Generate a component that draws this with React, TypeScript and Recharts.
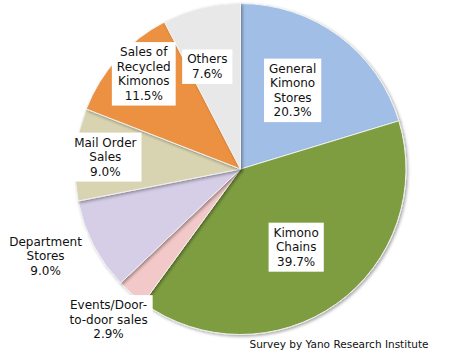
import { useLayoutEffect, useRef, useState } from 'react';
import { PieChart, Pie, Cell } from 'recharts';

const categories = [
  ['General', 'Kimono', 'Stores'],
  ['Kimono', 'Chains'],
  ['Events/Door-', 'to-door sales'],
  ['Department', 'Stores'],
  ['Mail Order', 'Sales'],
  ['Sales of', 'Recycled', 'Kimonos'],
  ['Others'],
];
const shares = [20.3, 39.7, 2.9, 9.0, 9.0, 11.5, 7.6];
const source = 'Survey by Yano Research Institute';

const colors = ['#A0BEE6', '#7E9D3F', '#F2C8C8', '#D6CDE6', '#D8D3B0', '#EC9142', '#E8E8E8'];
// best-fit label placement: radius factor and angle nudge (deg)
const labelRadius = [0.57, 0.58, 1.21, 1.29, 0.82, 0.82, 0.65];
const labelNudge = [3, 0, 0, -3.3, 0, -2.6, 4.3];

const data = shares.map((v, i) => ({ name: categories[i].join(' '), value: v, lines: categories[i] }));

const FONT = '"DejaVu Sans", sans-serif';
const LINE = 14.5;

const LabelBox = ({ x, y, lines }: { x: number; y: number; lines: string[] }) => {
  const ref = useRef<SVGTextElement>(null);
  const [box, setBox] = useState<{ x: number; y: number; w: number; h: number } | null>(null);
  useLayoutEffect(() => {
    if (ref.current) {
      const b = ref.current.getBBox();
      setBox({ x: b.x, y: b.y, w: b.width, h: b.height });
    }
  }, [x, y]);
  const top = y - ((lines.length - 1) * LINE) / 2;
  return (
    <g>
      {box && <rect x={box.x - 5} y={box.y - 3} width={box.w + 10} height={box.h + 6} fill="#fff" />}
      <text ref={ref} x={x} y={top} textAnchor="middle" dominantBaseline="central" fontFamily={FONT} fontSize={12} fill="#111">
        {lines.map((l, i) => (
          <tspan key={i} x={x} dy={i === 0 ? 0 : LINE}>{l}</tspan>
        ))}
      </text>
    </g>
  );
};

const renderLabel = (p: any) => {
  const RAD = Math.PI / 180;
  const a = p.midAngle + labelNudge[p.index];
  const r = p.outerRadius * labelRadius[p.index];
  const x = p.cx + r * Math.cos(-a * RAD);
  const y = p.cy + r * Math.sin(-a * RAD);
  const lines = [...data[p.index].lines, `${data[p.index].value.toFixed(1)}%`];
  return <LabelBox key={p.index} x={x} y={y} lines={lines} />;
};

export default function App() {
  return (
    <div style={{ position: 'relative', width: 449, height: 354, background: '#fff' }}>
      <style>{`body{margin:0}`}</style>
      <PieChart width={449} height={354} margin={{ top: 0, right: 0, bottom: 0, left: 0 }}>
        <defs>
          <filter id="shadow" x="-10%" y="-10%" width="120%" height="120%">
            <feDropShadow dx="1.5" dy="1.5" stdDeviation="1.5" floodColor="#000" floodOpacity="0.35" />
          </filter>
        </defs>
        <Pie
          data={data}
          dataKey="value"
          cx={240.5}
          cy={169}
          outerRadius={165.5}
          startAngle={90}
          endAngle={-270}
          stroke="#f2f2f2"
          strokeWidth={1}
          label={renderLabel}
          labelLine={false}
          isAnimationActive={false}
          style={{ filter: 'url(#shadow)' }}
        >
          {data.map((d, i) => (
            <Cell key={d.name} fill={colors[i]} />
          ))}
        </Pie>
      </PieChart>
      <div
        style={{
          position: 'absolute',
          left: 246,
          top: 336,
          width: 186,
          textAlign: 'center',
          fontFamily: FONT,
          fontSize: 10.5,
          lineHeight: '16px',
          whiteSpace: 'nowrap',
          color: '#111',
        }}
      >
        {source}
      </div>
    </div>
  );
}
